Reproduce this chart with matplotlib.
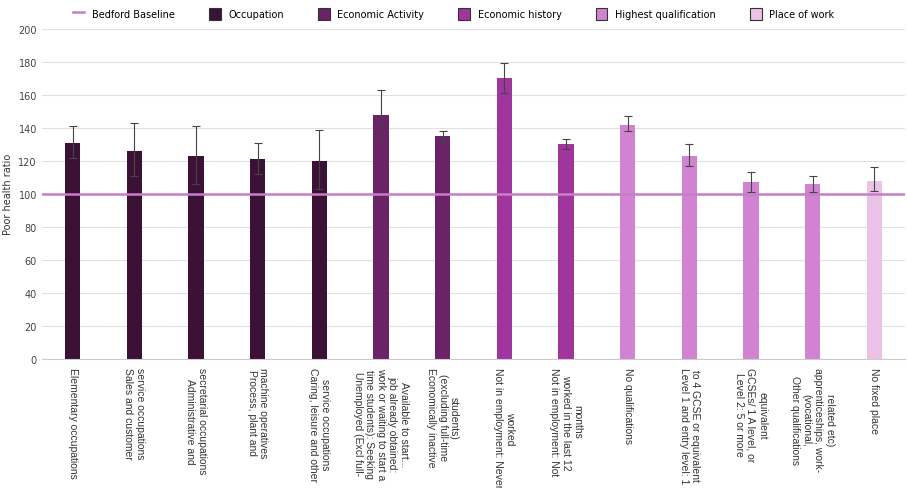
import matplotlib.pyplot as plt
import numpy as np
from matplotlib.patches import Patch
from matplotlib.lines import Line2D

labels = ['Elementary occupations', 'Sales and customer\nservice occupations',
          'Administrative and\nsecretarial occupations', 'Process, plant and\nmachine operatives',
          'Caring, leisure and other\nservice occupations',
          'Unemployed (Excl full-\ntime students): Seeking\nwork or waiting to start a\njob already obtained:\nAvailable to start...',
          'Economically inactive\n(excluding full-time\nstudents)',
          'Not in employment: Never\nworked', 'Not in employment: Not\nworked in the last 12\nmonths',
          'No qualifications', 'Level 1 and entry level: 1\nto 4 GCSE or equivalent',
          'Level 2: 5 or more\nGCSEs/ 1 A level, or\nequivalent',
          'Other qualifications\n(vocational,\napprenticeships, work-\nrelated etc)',
          'No fixed place']
values = [131, 126, 123, 121, 120, 148, 135, 170, 130, 142, 123, 107, 106, 108]
err_low = [122, 111, 106, 112, 103, 135, 131, 161, 127, 138, 117, 101, 101, 102]
err_high = [141, 143, 141, 131, 139, 163, 138, 179, 133, 147, 130, 113, 111, 116]
groups = [0, 0, 0, 0, 0, 1, 1, 2, 2, 3, 3, 3, 3, 4]
group_names = ['Occupation', 'Economic Activity', 'Economic history', 'Highest qualification', 'Place of work']
group_colors = ['#3b1236', '#6a2366', '#a0359e', '#d183d1', '#ebc2e6']
baseline = 100

fig = plt.figure(figsize=(9.07, 4.89), dpi=100)
ax = fig.add_axes([0.046, 0.264, 0.952, 0.675])
x = np.arange(len(values))
v = np.array(values)
yerr = [v - np.array(err_low), np.array(err_high) - v]
ax.bar(x, v, width=0.25, color=[group_colors[g] for g in groups], zorder=2)
ax.errorbar(x, v, yerr=yerr, fmt='none', ecolor='#444444', elinewidth=0.8, capsize=3, capthick=0.8, zorder=3)
ax.axhline(baseline, color='#c77dc7', lw=1.8, zorder=4)

ax.set_xlim(-0.5, len(values) - 0.5)
ax.set_ylim(0, 200)
ax.set_yticks(range(0, 201, 20))
ax.set_xticks(x)
# rotated clockwise, first line drawn on the left as in the reference
shown = ['\n'.join(reversed(l.split('\n'))) for l in labels]
ax.set_xticklabels(shown, rotation=-90, ha='center', va='top', fontsize=7.5, color='#333333',
                   family='Liberation Sans', multialignment='center')
ax.tick_params(axis='y', labelsize=7, colors='#444444', length=0)
ax.tick_params(axis='x', length=0, pad=6)
ax.grid(axis='y', color='#e0e0e0', lw=0.8, zorder=0)
for s in ['top', 'right', 'left']:
    ax.spines[s].set_visible(False)
ax.spines['bottom'].set_color('#cccccc')
ax.set_ylabel('Poor health ratio', fontsize=7, color='#333333')

handles = [Line2D([0], [0], color='#c77dc7', lw=1.8)]
handles += [Patch(facecolor=c, edgecolor='#333333', lw=0.8) for c in group_colors]
fig.legend(handles, ['Bedford Baseline'] + group_names, loc='upper center', bbox_to_anchor=(0.5, 1.0),
           ncol=6, frameon=False, fontsize=7, handlelength=1.2, handleheight=1.6, columnspacing=3.5)
fig.savefig('out.png')
